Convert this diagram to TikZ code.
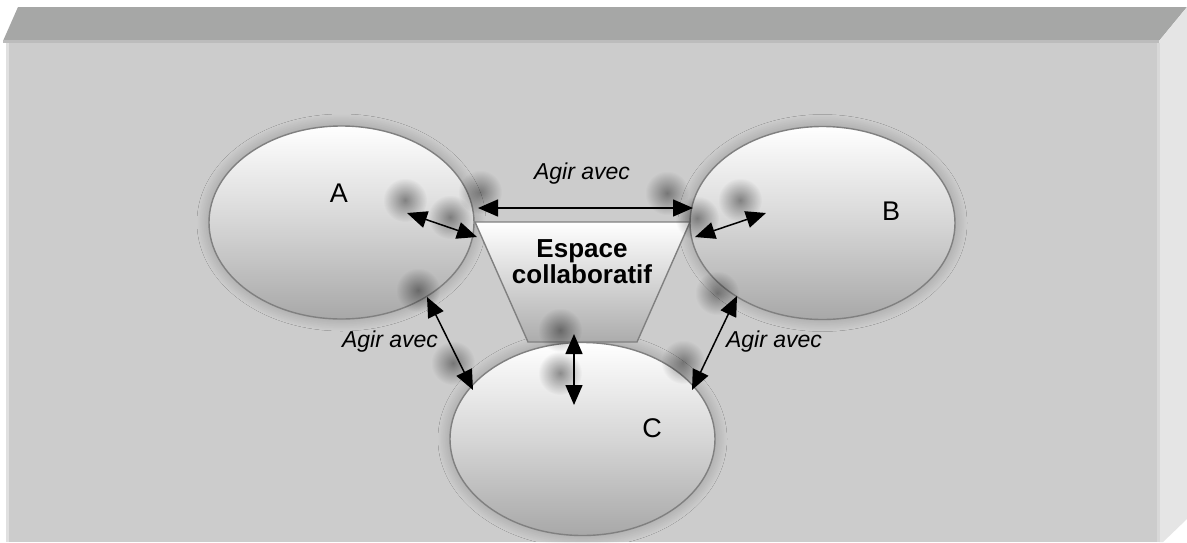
\documentclass[tikz,border=0pt]{standalone}
\usepackage{fontspec}
\setmainfont{Liberation Sans}
\usetikzlibrary{arrows.meta,shadows.blur,fadings,shapes.geometric}
\definecolor{frontc}{RGB}{204,204,204}
\definecolor{topc}{RGB}{166,167,166}
\definecolor{sidec}{RGB}{229,229,229}
\definecolor{edgec}{RGB}{128,128,128}
\definecolor{lowc}{RGB}{168,168,168}
\definecolor{midc}{RGB}{214,214,214}
\definecolor{traplow}{RGB}{172,172,172}
\definecolor{seamc}{RGB}{188,188,188}
\definecolor{leftc}{RGB}{224,224,224}
\definecolor{rseamc}{RGB}{216,216,216}
\tikzfading[name=fuzzy, inner color=transparent!0, outer color=transparent!100]
\tikzset{
  ell/.style={ellipse, draw=edgec, line width=1.4pt, top color=white, bottom color=lowc,
    middle color=midc,
    minimum width=265pt, minimum height=193pt, inner sep=0pt,
    blur shadow={shadow xshift=0pt, shadow yshift=0pt, shadow blur radius=12pt, shadow blur steps=24, shadow opacity=26}},
  lettre/.style={font=\fontsize{27}{30}\selectfont, inner sep=0pt},
  agir/.style={font=\fontsize{23}{26}\selectfont\itshape, inner sep=0pt, anchor=base},
  fleche/.style={line width=1.5pt, {Triangle[length=20pt,width=17pt]}-{Triangle[length=20pt,width=17pt]}},
  blob/.style={fill=black, opacity=0.42, path fading=fuzzy}
}
\begin{document}
\begin{tikzpicture}[x=1pt,y=-1pt]
\useasboundingbox (0,0) rectangle (1187,542);
\fill[white] (0,0) rectangle (1187,542);
% slab
\fill[topc] (3,41) -- (18,7) -- (1187,7) -- (1159,41) -- cycle;
\fill[sidec] (1159,41) -- (1187,7) -- (1187,519) -- (1163,542) -- (1159,542) -- cycle;
\fill[frontc] (6,41) rectangle (1159,542);
\fill[seamc] (3,40) rectangle (1159,43);
\fill[leftc] (6,43) rectangle (9,542);
\fill[rseamc] (1157,43) rectangle (1160,542);
% ellipses
\node[ell] (A) at (341.5,222.5) {};
\node[ell] (B) at (822.5,223) {};
\node[ell] (C) at (582.5,439) {};
% trapezoid
\coordinate (t1) at (475,222);
\coordinate (t2) at (690,222);
\coordinate (t3) at (637,342);
\coordinate (t4) at (528,342);
\path[draw=edgec, line width=1.4pt, top color=white, bottom color=traplow]
  (t1) -- (t2) -- (t3) -- (t4) -- cycle;
\node[anchor=north, align=center, inner sep=0pt, font=\fontsize{26}{26}\selectfont\bfseries] (E) at (582,239) {Espace\\collaboratif};
% labels
\node[lettre] (la) at (339,193) {A};
\node[lettre] (lb) at (891,211) {B};
\node[lettre] (lc) at (652,428) {C};
\node[agir] (g1) at (582,179) {Agir avec};
\node[agir] (g2) at (390,347) {Agir avec};
\node[agir] (g3) at (774,347) {Agir avec};
% arrow shadows
\foreach \p in {(405,200),(450,217),(480,192),(667,193),(740,200),(697,218),(418,290),(453,363),(560,330),(560,373),(717,293),(683,362)}
  \fill[blob] \p circle[radius=22pt];
% arrow ends
\coordinate (h1) at (478,208);
\coordinate (h2) at (693,208);
\coordinate (a1) at (407,213);
\coordinate (a2) at (477,237);
\coordinate (b1) at (695,237);
\coordinate (b2) at (766,213);
\coordinate (ac1) at (427,297);
\coordinate (ac2) at (473,390);
\coordinate (bc1) at (737,296);
\coordinate (bc2) at (692,390);
\coordinate (v1) at (574,334);
\coordinate (v2) at (574,405);
\draw[fleche] (h1) -- (h2);
\draw[fleche] (a1) -- (a2);
\draw[fleche] (b1) -- (b2);
\draw[fleche] (ac1) -- (ac2);
\draw[fleche] (bc1) -- (bc2);
\draw[fleche] (v1) -- (v2);
\end{tikzpicture}
\end{document}
